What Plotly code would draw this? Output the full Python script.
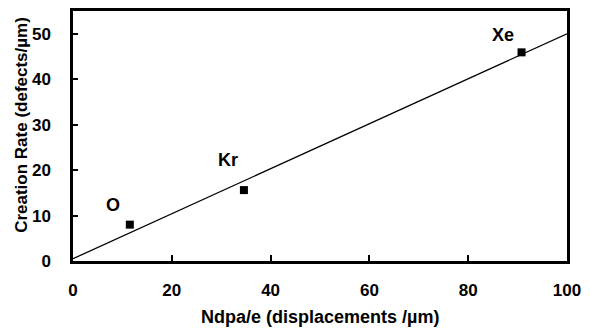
import plotly.graph_objects as go

ions = ["O", "Kr", "Xe"]
ndpa = [11.5, 34.6, 90.8]
rate = [8.0, 15.6, 45.9]
label_x = [8.1, 31.4, 87.0]
label_y = [12.4, 22.2, 49.8]
fit_x = [0, 100]
fit_y = [0.5, 50.0]
x_title = "Ndpa/e (displacements /µm)"
y_title = "Creation Rate (defects/µm)"

font_family = "Liberation Sans, Arial, Helvetica, sans-serif"

fig = go.Figure()
fig.add_trace(go.Scatter(x=fit_x, y=fit_y, mode="lines",
                         line=dict(color="black", width=1.3), showlegend=False))
fig.add_trace(go.Scatter(x=ndpa, y=rate, mode="markers",
                         marker=dict(symbol="square", size=8, color="black"),
                         showlegend=False))
for name, lx, ly in zip(ions, label_x, label_y):
    fig.add_annotation(x=lx, y=ly, text=name, showarrow=False,
                       font=dict(family=font_family, size=18, color="black", weight="bold"))

fig.add_annotation(xref="paper", yref="paper", x=0.5, y=-0.222, yanchor="middle",
                   text=x_title, showarrow=False,
                   font=dict(family=font_family, size=18, color="black", weight="bold"))
fig.add_annotation(xref="paper", yref="paper", x=-0.103, xanchor="center",
                   y=0.545, yanchor="middle", textangle=-90,
                   text=y_title, showarrow=False,
                   font=dict(family=font_family, size=17, color="black", weight="bold"))

fig.update_layout(
    width=591, height=331,
    margin=dict(l=73, r=24, t=8, b=70),
    plot_bgcolor="white", paper_bgcolor="white",
    font=dict(family=font_family, color="black"),
)
fig.update_xaxes(range=[0, 100], tickvals=[0, 20, 40, 60, 80, 100],
                 showgrid=False, zeroline=False, showline=True, mirror=True,
                 linecolor="black", linewidth=2.5, ticks="inside", ticklen=6,
                 tickwidth=2, tickcolor="black", ticklabelstandoff=12,
                 tickfont=dict(size=17, weight="bold"))
fig.update_yaxes(range=[0, 55], tickvals=[0, 10, 20, 30, 40, 50],
                 showgrid=False, zeroline=False, showline=True, mirror=True,
                 linecolor="black", linewidth=2.5, ticks="inside", ticklen=5,
                 tickwidth=2, tickcolor="black", ticklabelstandoff=16,
                 tickfont=dict(size=17, weight="bold"))

fig.write_html("out.html")
